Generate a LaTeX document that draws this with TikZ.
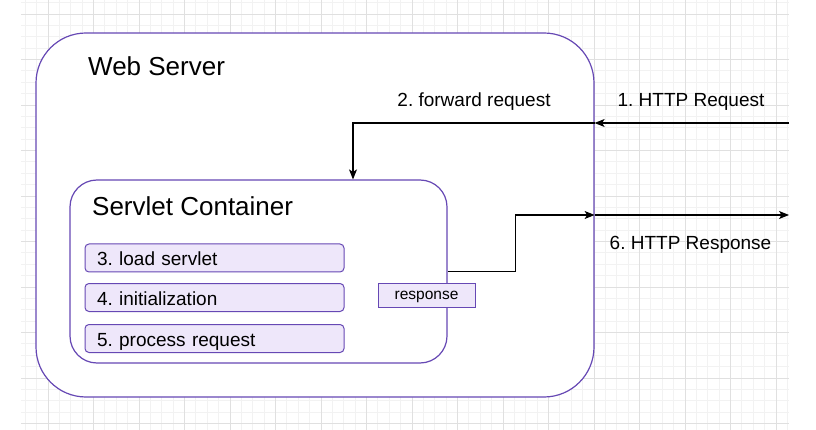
\documentclass[tikz,border=0pt]{standalone}
\usepackage{fontspec}
\setmainfont{Liberation Sans}
\usetikzlibrary{arrows.meta}
\definecolor{boxpurple}{RGB}{102,72,180}
\definecolor{boxfill}{RGB}{238,231,250}
\definecolor{gridminor}{RGB}{242,242,242}
\definecolor{gridmajor}{RGB}{224,224,224}
\frenchspacing
\begin{document}
\begin{tikzpicture}[x=1pt,y=-1pt,
    webbox/.style={draw=boxpurple,line width=1.2pt,fill=white,rounded corners=50pt,minimum width=558pt,minimum height=364pt},
    ctrbox/.style={draw=boxpurple,line width=1.2pt,fill=white,rounded corners=27pt,minimum width=377pt,minimum height=183pt},
    stepbox/.style={draw=boxpurple,line width=1pt,fill=boxfill,rounded corners=4pt,text width=235pt,align=left,inner xsep=12pt,inner ysep=0pt,minimum height=28pt,text height=15pt,text depth=0pt,font=\fontsize{19}{23}\selectfont},
    respbox/.style={draw=boxpurple,line width=1pt,fill=boxfill,minimum width=97pt,minimum height=24pt,inner sep=0pt,text height=8pt,text depth=0pt,font=\fontsize{15.5}{18}\selectfont},
    title/.style={anchor=base west,inner sep=0pt,font=\fontsize{26}{30}\selectfont},
    lbl/.style={anchor=base,inner sep=0pt,font=\fontsize{19}{23}\selectfont},
    conn/.style={line width=1.2pt,-{Stealth[length=10pt,width=8pt,inset=2.5pt]}}]
    \useasboundingbox (0,0) rectangle (816,430);

    % background grid
    \begin{scope}
        \clip (21,0) rectangle (789,430);
        \foreach \i in {-3,...,68}
            \draw[gridminor,line width=0.8pt] ({48+\i*11.375},0) -- ++(0,430);
        \foreach \i in {-2,...,38}
            \draw[gridminor,line width=0.8pt] (21,{14+\i*11.375}) -- ++(768,0);
        \foreach \i in {-1,...,17}
            \draw[gridmajor,line width=0.8pt] ({48+\i*45.5},0) -- ++(0,430);
        \foreach \i in {-1,...,9}
            \draw[gridmajor,line width=0.8pt] (21,{14+\i*45.5}) -- ++(768,0);
    \end{scope}

    % web server
    \node[webbox] (web) at (315,215) {};
    \node[title] (webtitle) at (88,76) {Web Server};

    % servlet container
    \node[ctrbox] (ctr) at (258.5,271.5) {};
    \node[title] (ctrtitle) at (92,216) {Servlet Container};

    % steps inside the container
    \node[stepbox] (load) at (214.5,258) {3. load servlet};
    \node[stepbox] (init) at (214.5,297.5) {4. initialization};
    \node[stepbox] (proc) at (214.5,338.5) {5. process request};
    \node[respbox] (resp) at (426.5,295) {response};

    % free ends outside the server
    \coordinate (reqin) at (789,123);
    \coordinate (respout) at (789,215);

    % request path
    \draw[conn] (reqin) -- (reqin -| web.east);
    \draw[conn] (reqin -| web.east) -| ([xshift=94.5pt]ctr.north);

    % response path
    \draw[conn] (ctr.east) -- ++(68,0) |- (respout -| web.east);
    \draw[conn] (respout -| web.east) -- (respout);

    % labels
    \node[lbl] (fwdlbl) at (474,106.5) {2. forward request};
    \node[lbl] (reqlbl) at (691,106.5) {1. HTTP Request};
    \node[lbl] (resplbl) at (690.5,250) {6. HTTP Response};
\end{tikzpicture}
\end{document}
